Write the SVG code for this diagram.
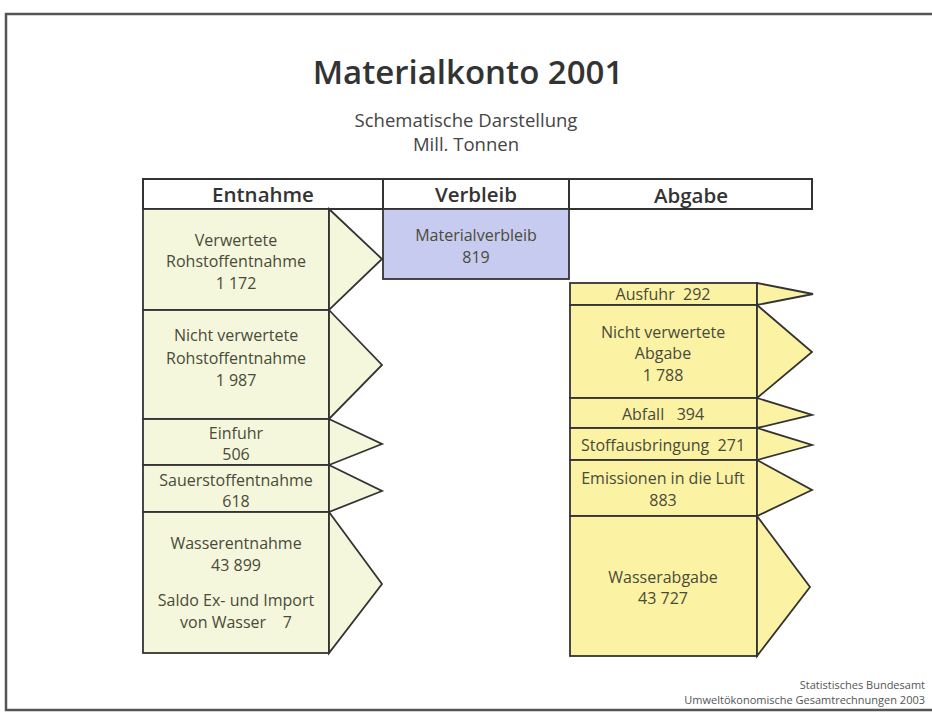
<svg xmlns="http://www.w3.org/2000/svg" width="932" height="712" viewBox="0 0 932 712">
<style>
.frame{fill:none;stroke:#555;stroke-width:2.5}
.hdr{fill:#fff;stroke:#333;stroke-width:2}
.ht{font-family:"Open Sans",sans-serif;font-weight:600;font-size:20.5px;fill:#333;text-anchor:middle}
.l{fill:#f4f7dc;stroke:#333;stroke-width:1.8;stroke-linejoin:miter}
.r{fill:#fbf2a4;stroke:#333;stroke-width:1.8;stroke-linejoin:miter}
.m{fill:#c8cbf0;stroke:#333;stroke-width:1.8}
.t{font-family:"Open Sans",sans-serif;font-size:16px;fill:#4a4a3a;text-anchor:middle;white-space:pre}
.title{font-family:"Open Sans",sans-serif;font-weight:600;font-size:33px;fill:#333;text-anchor:middle}
.sub{font-family:"Open Sans",sans-serif;font-size:18.5px;fill:#444;text-anchor:middle}
.foot{font-family:"Open Sans",sans-serif;font-size:11px;fill:#555;text-anchor:end}
</style>
<rect width="932" height="712" fill="#fff"/>
<rect class="frame" x="6" y="14" width="940" height="696"/>
<text class="title" x="468" y="84">Materialkonto 2001</text>
<text class="sub" x="466" y="127">Schematische Darstellung</text>
<text class="sub" x="466" y="151">Mill. Tonnen</text>

<g id="headers">
<rect class="hdr" x="143" y="179" width="240" height="30"/>
<rect class="hdr" x="383" y="179" width="186" height="30"/>
<rect class="hdr" x="569" y="179" width="243" height="30"/>
<text class="ht" x="263" y="202">Entnahme</text>
<text class="ht" x="476" y="202">Verbleib</text>
<text class="ht" x="691" y="203">Abgabe</text>
</g>

<g id="verwertete">
<rect class="l" x="143" y="209" width="186" height="101"/>
<polygon class="l" points="329,209 382,259 329,310"/>
<text class="t" x="236" y="246">Verwertete</text>
<text class="t" x="236" y="267">Rohstoffentnahme</text>
<text class="t" x="236" y="289">1 172</text>
</g>
<g id="nichtverwertete">
<rect class="l" x="143" y="310" width="186" height="109"/>
<polygon class="l" points="329,310 382,365 329,419"/>
<text class="t" x="236" y="341">Nicht verwertete</text>
<text class="t" x="236" y="364">Rohstoffentnahme</text>
<text class="t" x="236" y="386">1 987</text>
</g>
<g id="einfuhr">
<rect class="l" x="143" y="419" width="186" height="46"/>
<polygon class="l" points="329,419 382,444 329,465"/>
<text class="t" x="236" y="439">Einfuhr</text>
<text class="t" x="236" y="460">506</text>
</g>
<g id="sauerstoff">
<rect class="l" x="143" y="465" width="186" height="47"/>
<polygon class="l" points="329,465 382,491 329,512"/>
<text class="t" x="236" y="486">Sauerstoffentnahme</text>
<text class="t" x="236" y="507">618</text>
</g>
<g id="wasserentnahme">
<rect class="l" x="143" y="512" width="186" height="141"/>
<polygon class="l" points="329,512 382,584 329,653"/>
<text class="t" x="236" y="549">Wasserentnahme</text>
<text class="t" x="236" y="571">43 899</text>
<text class="t" x="236" y="606">Saldo Ex- und Import</text>
<text class="t" x="236" y="628">von Wasser    7</text>
</g>

<g id="materialverbleib">
<rect class="m" x="383" y="209" width="186" height="70"/>
<text class="t" x="476" y="241">Materialverbleib</text>
<text class="t" x="476" y="263">819</text>
</g>

<g id="ausfuhr">
<rect class="r" x="570" y="283" width="187" height="22"/>
<polygon class="r" points="757,283 813,294 757,305"/>
<text class="t" x="663" y="300">Ausfuhr  292</text>
</g>
<g id="nichtverwerteteabgabe">
<rect class="r" x="570" y="305" width="187" height="93"/>
<polygon class="r" points="757,305 812,352 757,398"/>
<text class="t" x="663" y="338">Nicht verwertete</text>
<text class="t" x="663" y="359">Abgabe</text>
<text class="t" x="663" y="381">1 788</text>
</g>
<g id="abfall">
<rect class="r" x="570" y="398" width="187" height="30"/>
<polygon class="r" points="757,398 812,415 757,428"/>
<text class="t" x="663" y="420">Abfall   394</text>
</g>
<g id="stoffausbringung">
<rect class="r" x="570" y="428" width="187" height="32"/>
<polygon class="r" points="757,428 812,445 757,460"/>
<text class="t" x="663" y="451">Stoffausbringung  271</text>
</g>
<g id="emissionen">
<rect class="r" x="570" y="460" width="187" height="56"/>
<polygon class="r" points="757,460 812,490 757,516"/>
<text class="t" x="663" y="484">Emissionen in die Luft</text>
<text class="t" x="663" y="506">883</text>
</g>
<g id="wasserabgabe">
<rect class="r" x="570" y="516" width="187" height="140"/>
<polygon class="r" points="757,516 810,587 757,656"/>
<text class="t" x="663" y="583">Wasserabgabe</text>
<text class="t" x="663" y="604">43 727</text>
</g>

<text class="foot" x="925" y="689">Statistisches Bundesamt</text>
<text class="foot" x="925" y="704">Umweltökonomische Gesamtrechnungen 2003</text>
</svg>
